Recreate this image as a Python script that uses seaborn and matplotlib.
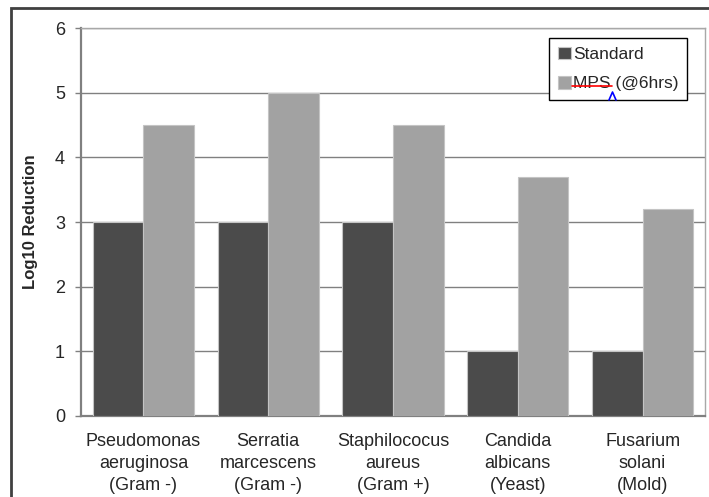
import matplotlib
matplotlib.use("Agg")
import matplotlib.pyplot as plt
import pandas as pd
import seaborn as sns
from matplotlib.lines import Line2D
from matplotlib.patches import Rectangle

organisms = [
    "Pseudomonas\naeruginosa\n(Gram -)",
    "Serratia\nmarcescens\n(Gram -)",
    "Staphilococus\naureus\n(Gram +)",
    "Candida\nalbicans\n(Yeast)",
    "Fusarium\nsolani\n(Mold)",
]
standard = [3, 3, 3, 1, 1]
mps = [4.5, 5, 4.5, 3.7, 3.2]
series = ["Standard", "MPS (@6hrs)"]
colors = ["#4b4b4b", "#a2a2a2"]

df = pd.DataFrame({
    "organism": organisms * 2,
    "value": standard + mps,
    "method": [series[0]] * len(organisms) + [series[1]] * len(organisms),
})

sns.set_style("white")
plt.rcParams["font.family"] = ["Liberation Sans", "DejaVu Sans"]

W, H = 709, 497
fig = plt.figure(figsize=(W / 100, H / 100), dpi=100)
ax = fig.add_axes([81 / W, 1 - 416 / H, (705 - 81) / W, (416 - 28) / H])

sns.barplot(
    data=df, x="organism", y="value", hue="method", palette=colors,
    width=0.81, saturation=1, edgecolor="#c4c4c4", linewidth=0.8,
    errorbar=None, ax=ax, zorder=3,
)

ax.set_ylim(0, 6)
ax.set_yticks(range(0, 7))
ax.yaxis.grid(True, color="#808080", linewidth=1.0, zorder=0)
ax.set_axisbelow(True)
ax.set_xlabel("")
ax.set_ylabel("Log10 Reduction", fontsize=12, fontweight="bold", labelpad=12)

ax.tick_params(axis="y", left=True, length=4.5, width=1, color="#808080",
               labelsize=13, pad=7)
ax.tick_params(axis="x", bottom=False, labelsize=13, pad=9)
for lbl in ax.get_xticklabels():
    lbl.set_linespacing(1.38)

for side in ["left", "bottom"]:
    ax.spines[side].set_color("#808080")
    ax.spines[side].set_linewidth(1.6)
for side in ["top", "right"]:
    ax.spines[side].set_color("#a8a8a8")
    ax.spines[side].set_linewidth(1.0)

leg = ax.legend(
    loc="upper left", bbox_to_anchor=(0.75, 0.974), borderaxespad=0,
    frameon=True, fancybox=False, fontsize=12.5, handlelength=0.75,
    handleheight=0.75, handletextpad=0.15, labelspacing=0.8,
    borderpad=0.5, title=None,
)
leg.get_frame().set_edgecolor("black")
leg.get_frame().set_linewidth(1.0)
leg.get_frame().set_alpha(1)

# spell-check marks under "MPS" in the legend
fig.add_artist(Line2D([572 / W, 612 / W], [1 - 86 / H, 1 - 86 / H],
                      color="red", linewidth=1.2))
fig.add_artist(Line2D([609 / W, 612.5 / W, 616 / W],
                      [1 - 100 / H, 1 - 92 / H, 1 - 100 / H],
                      color="blue", linewidth=1.2))

# outer chart-area border
fig.add_artist(Rectangle((11 / W, -0.1), 1.2, 1 - 8 / H + 0.1,
                         transform=fig.transFigure, fill=False,
                         edgecolor="#404040", linewidth=2, clip_on=False))

fig.savefig("out.png", dpi=100)
